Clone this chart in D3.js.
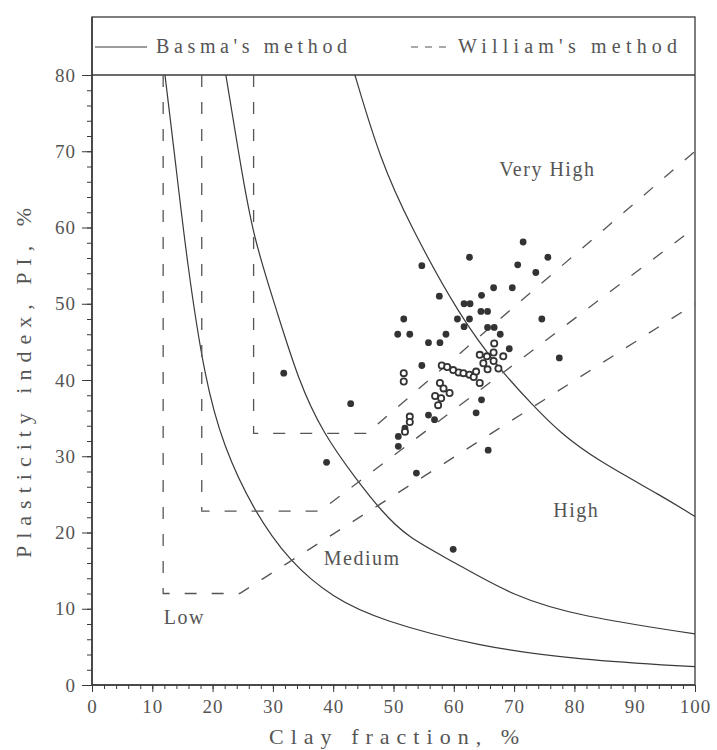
<!DOCTYPE html>
<html>
<head>
<meta charset="utf-8">
<script src="https://cdn.jsdelivr.net/npm/d3@7"></script>
<style>
  body { margin: 0; background: #fff; }
  text { font-family: "Liberation Serif", "DejaVu Serif", serif; fill: #555; }
</style>
</head>
<body>
<script>

// Basma's method boundaries (clay %, PI %)
var basmaLow = [[12.1,80],[13.8,68.9],[15.7,55.8],[18.7,40],[21.8,31.3],[26.7,23],[32.8,16.1],[40,11.4],[47.8,8.5],[64.3,5.0],[80.9,3.3],[100,2.4]]
var basmaMedium = [[22.2,80],[24.5,68.9],[26.7,58.8],[30.6,49.2],[34.2,40],[38.3,33],[43.9,26.9],[47.8,23],[52.2,19.4],[59.9,16.2],[69.9,11.6],[80.9,9.0],[100,6.7]]
var basmaHigh = [[43.6,80],[47.8,68.9],[52.6,60.5],[61,48.3],[67.7,41.3],[73.2,36.6],[77.6,33.1],[83.7,29.5],[94.7,24.7],[100,22.1]]

// William's method boundaries
var williamLow = [[11.8,80],[11.8,12],[24.5,12],[100,50]]
var williamMedium = [[18.2,80],[18.2,22.8],[37.8,22.8],[100,60]]
var williamHigh = [[26.8,80],[26.8,33],[45.6,33],[100,70]]

// measured soils
var filledPoints = [[71.5,58.1],[62.6,56.1],[54.7,55.0],[75.6,56.1],[70.6,55.1],[73.6,54.1],[66.6,52.1],[69.7,52.1],
  [57.6,51.0],[64.6,51.1],[61.7,50.0],[62.7,50.0],[64.5,49.0],[65.6,49.0],[51.7,48.0],[60.6,48.0],[62.6,48.0],
  [74.6,48.0],[61.7,47.0],[65.6,46.9],[66.7,46.9],[50.7,46.0],[52.7,46.0],[58.7,46.0],[67.7,46.0],[55.8,44.9],
  [57.7,44.9],[69.2,44.1],[77.5,42.9],[54.7,41.9],[64.6,37.4],[63.7,35.7],[55.8,35.4],[56.8,34.8],[51.9,33.7],
  [50.8,32.6],[50.8,31.3],[65.7,30.8],[53.8,27.8],[31.8,40.9],[42.9,36.9],[38.9,29.2],[59.9,17.8]]
var openPoints = [[66.7,44.8],[66.6,43.6],[51.7,40.9],[51.7,39.8],[58.0,41.9],[58.9,41.7],[59.9,41.3],[60.8,41.0],
  [61.6,40.9],[62.6,40.7],[63.3,40.4],[64.3,39.6],[63.7,41.1],[64.9,42.2],[65.6,41.4],[64.3,43.3],[65.5,43.1],
  [66.6,42.5],[67.4,41.5],[68.2,43.1],[57.7,39.6],[58.3,38.9],[59.3,38.3],[56.9,37.9],[57.9,37.6],[57.4,36.7],
  [52.7,35.2],[52.7,34.5],[51.9,33.2]]

var xTicks = [0,10,20,30,40,50,60,70,80,90,100]
var yTicks = [0,10,20,30,40,50,60,70,80]
var zoneLabels = [["Very High",75.5,66.8],["High",80.3,22],["Medium",44.8,15.7],["Low",15.3,8]]

var ink = "#3a3a3a"

var svg = d3.select("body").append("svg")
  .attr('width', 717)
  .attr('height', 750)

var x = d3.scaleLinear().domain([0,100]).range([92,695])
var y = d3.scaleLinear().domain([0,80]).range([685,75])

// frame incl. legend strip
svg.append("rect")
  .attr('x', 92).attr('y', 17)
  .attr('width', 603).attr('height', 668)
  .attr('fill', 'none').attr('stroke', ink).attr('stroke-width', 1.3)

svg.append("line")
  .attr('x1', x(0)).attr('x2', x(100))
  .attr('y1', y(80)).attr('y2', y(80))
  .attr('stroke', ink).attr('stroke-width', 1.5)

// axes
function styleAxis(g) {
  g.select(".domain").remove()
  g.selectAll("line").attr('stroke', ink).attr('stroke-width', 1)
  g.selectAll("text").style('font-size', '19px').attr('fill', '#555').style('letter-spacing', '1px')
}

svg.append("g").attr('transform', 'translate(0,685)')
  .call(d3.axisBottom(x).tickValues(d3.range(0,101,2)).tickSize(4).tickFormat(""))
  .call(styleAxis)
svg.append("g").attr('transform', 'translate(0,685)')
  .call(d3.axisBottom(x).tickValues(xTicks).tickSize(7).tickPadding(8))
  .call(styleAxis)

svg.append("g").attr('transform', 'translate(92,0)')
  .call(d3.axisLeft(y).tickValues(d3.range(0,81,2)).tickSize(5).tickFormat(""))
  .call(styleAxis)
svg.append("g").attr('transform', 'translate(92,0)')
  .call(d3.axisLeft(y).tickValues(yTicks).tickSize(10).tickPadding(6))
  .call(styleAxis)

svg.append("line")
  .attr('x1', 92).attr('x2', 92).attr('y1', 17).attr('y2', 685)
  .attr('stroke', ink).attr('stroke-width', 1.5)
svg.append("line")
  .attr('x1', 92).attr('x2', 695).attr('y1', 685).attr('y2', 685)
  .attr('stroke', ink).attr('stroke-width', 1.5)

// boundary lines
var curve = d3.line()
  .x(function(d) { return x(d[0]) })
  .y(function(d) { return y(d[1]) })
  .curve(d3.curveBasis)
var poly = d3.line()
  .x(function(d) { return x(d[0]) })
  .y(function(d) { return y(d[1]) })

svg.selectAll(".basma")
  .data([basmaLow, basmaMedium, basmaHigh])
  .enter().append("path")
  .attr('class', 'basma')
  .attr('d', curve)
  .attr('fill', 'none').attr('stroke', ink).attr('stroke-width', 1.2)

svg.selectAll(".william")
  .data([williamLow, williamMedium, williamHigh])
  .enter().append("path")
  .attr('class', 'william')
  .attr('d', poly)
  .attr('fill', 'none').attr('stroke', '#555').attr('stroke-width', 1.3)
  .attr('stroke-dasharray', '12,15')

// data points
svg.selectAll(".filled")
  .data(filledPoints)
  .enter().append("circle")
  .attr('class', 'filled')
  .attr('cx', function(d) { return x(d[0]) })
  .attr('cy', function(d) { return y(d[1]) })
  .attr('r', 3.4)
  .attr('fill', '#333')

svg.selectAll(".open")
  .data(openPoints)
  .enter().append("circle")
  .attr('class', 'open')
  .attr('cx', function(d) { return x(d[0]) })
  .attr('cy', function(d) { return y(d[1]) })
  .attr('r', 3.1)
  .attr('fill', '#fff')
  .attr('stroke', '#333').attr('stroke-width', 1.8)

// zone names
svg.selectAll(".zone")
  .data(zoneLabels)
  .enter().append("text")
  .attr('class', 'zone')
  .attr('x', function(d) { return x(d[1]) })
  .attr('y', function(d) { return y(d[2]) })
  .attr('text-anchor', 'middle')
  .style('font-size', '20px')
  .style('letter-spacing', '1.5px')
  .text(function(d) { return d[0] })

// legend
svg.append("line")
  .attr('x1', 95).attr('x2', 147).attr('y1', 47).attr('y2', 47)
  .attr('stroke', ink).attr('stroke-width', 1.2)
svg.append("text")
  .attr('x', 156).attr('y', 53)
  .attr('textLength', 191).attr('lengthAdjust', 'spacing')
  .style('font-size', '20px')
  .text("Basma's method")
svg.append("line")
  .attr('x1', 411).attr('x2', 453).attr('y1', 47).attr('y2', 47)
  .attr('stroke', '#555').attr('stroke-width', 1.2)
  .attr('stroke-dasharray', '7,7')
svg.append("text")
  .attr('x', 458).attr('y', 53)
  .attr('textLength', 219).attr('lengthAdjust', 'spacing')
  .style('font-size', '20px')
  .text("William's method")

// axis titles
svg.append("text")
  .attr('x', 394).attr('y', 744)
  .attr('text-anchor', 'middle')
  .attr('textLength', 250).attr('lengthAdjust', 'spacing')
  .style('font-size', '22px')
  .text("Clay fraction, %")

svg.append("text")
  .attr('transform', 'translate(31,383) rotate(-90)')
  .attr('text-anchor', 'middle')
  .attr('textLength', 350).attr('lengthAdjust', 'spacing')
  .style('font-size', '22px')
  .text("Plasticity index, PI, %")

</script>
</body>
</html>
